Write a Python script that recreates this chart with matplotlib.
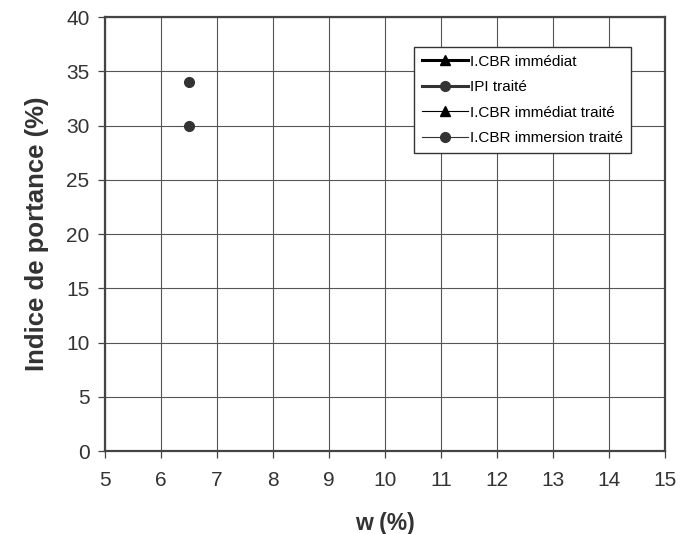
import matplotlib
matplotlib.use("Agg")
import matplotlib.pyplot as plt

plt.rcParams['font.family'] = ['Liberation Sans', 'DejaVu Sans']

# series (w %, indice %)
cbr_imm_w, cbr_imm_y = [], []
ipi_w, ipi_y = [6.5], [34]
cbr_imm_t_w, cbr_imm_t_y = [], []
cbr_immers_t_w, cbr_immers_t_y = [6.5], [30]

x_ticks = list(range(5, 16))
y_ticks = list(range(0, 41, 5))

fig = plt.figure(figsize=(6.94, 5.34), dpi=100)
ax = fig.add_axes([0.151, 0.155, 0.807, 0.813])

ax.plot(cbr_imm_w, cbr_imm_y, color='black', lw=2.2, marker='^', ms=7, label='I.CBR immédiat')
ax.plot(ipi_w, ipi_y, color='#333333', lw=2.2, marker='o', ms=7, label='IPI traité')
ax.plot(cbr_imm_t_w, cbr_imm_t_y, color='black', lw=0.8, marker='^', ms=7, label='I.CBR immédiat traité')
ax.plot(cbr_immers_t_w, cbr_immers_t_y, color='#333333', lw=0.8, marker='o', ms=7,
        label='I.CBR immersion traité')

ax.set_xlim(5, 15)
ax.set_ylim(0, 40)
ax.set_xticks(x_ticks)
ax.set_yticks(y_ticks)
ax.grid(True, color='#555555', lw=0.8)
ax.set_axisbelow(True)
ax.tick_params(direction='out', length=5, width=0.9, labelsize=15, color='#444444',
               labelcolor='#333333')
ax.tick_params(axis='x', pad=9)
ax.tick_params(axis='y', pad=6)
for s in ax.spines.values():
    s.set_color('#444444')
    s.set_linewidth(1.6)

ax.set_xlabel('w (%)', fontsize=16.5, fontweight='bold', color='#333333', labelpad=16)
ax.set_ylabel('Indice de portance (%)', fontsize=18.5, fontweight='bold', color='#333333', labelpad=12)

leg = ax.legend(loc='upper right', bbox_to_anchor=(0.939, 0.931), fontsize=11, frameon=True,
                fancybox=False, edgecolor='#333333', framealpha=1, handlelength=3.0,
                borderpad=0.5, labelspacing=0.75, handletextpad=0.15, borderaxespad=0)
leg.get_frame().set_linewidth(1.0)

fig.savefig('out.png', dpi=100)
